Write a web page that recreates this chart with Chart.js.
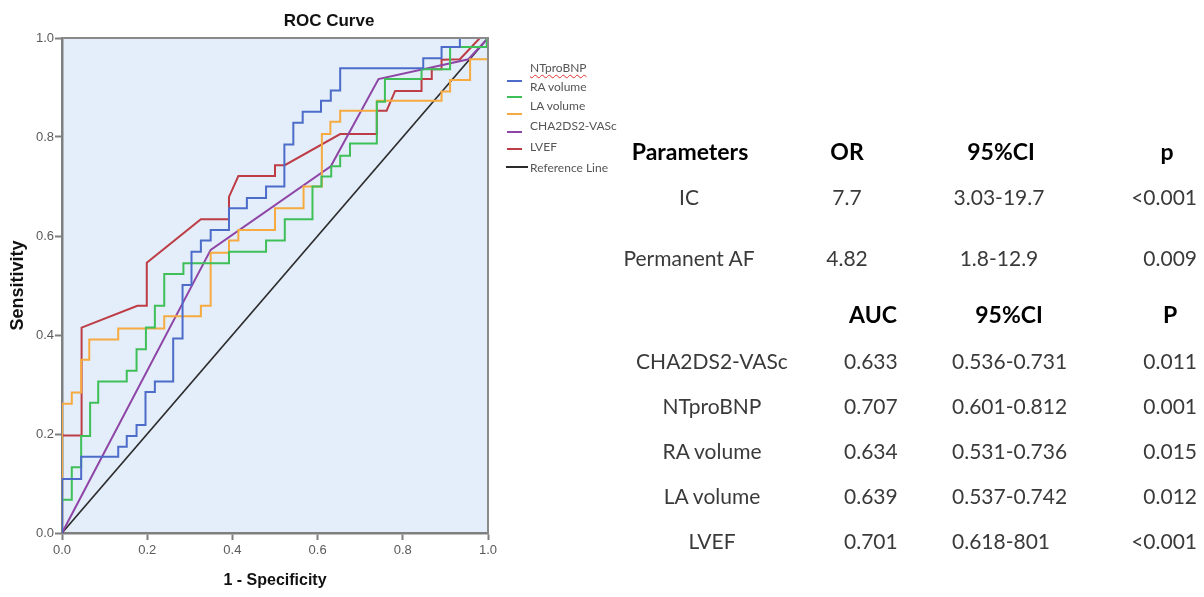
<!DOCTYPE html>
<html lang="en">
<head>
  <meta charset="UTF-8">
  <title>ROC Curve</title>
  <style>
    body { margin: 0; background: #fff; }
    #wrap { position: relative; width: 1204px; height: 597px; overflow: hidden; }
    #roc { position: absolute; left: 0; top: 0; }
    .cell {
      position: absolute; white-space: nowrap;
      font-family: Lato, "Open Sans", sans-serif; font-size: 21px; line-height: 1; color: #3a3a3a;
    }
    .head { font-weight: bold; color: #000; font-size: 23px; }
    .lg-text {
      position: absolute; transform: translateY(-50%); white-space: nowrap;
      font-family: Lato, sans-serif; font-size: 12px; line-height: 1; color: #555;
    }
    .lg-line { position: absolute; height: 2px; }
    .spell { text-decoration: underline wavy #e03030; text-decoration-thickness: 1px; text-underline-offset: 2px; }
  </style>
</head>
<body>
  <div id="wrap">
    <canvas id="roc" width="1204" height="597"></canvas>
  </div>

  <script src="https://cdn.jsdelivr.net/npm/chart.js"></script>
  <script>
    // ROC curves (1 - specificity, sensitivity)
    // step curves: each point is the corner at the end of a horizontal run
    const ntprobnpX = [0, 0.045, 0.132, 0.152, 0.175, 0.196, 0.218, 0.261, 0.283, 0.304, 0.326, 0.349, 0.392, 0.434, 0.479, 0.522, 0.543, 0.565, 0.608, 0.631, 0.653, 0.848, 0.891, 0.934, 1];
    const ntprobnpY = [0, 0.109, 0.154, 0.174, 0.196, 0.218, 0.285, 0.306, 0.393, 0.501, 0.568, 0.591, 0.612, 0.656, 0.677, 0.700, 0.785, 0.829, 0.851, 0.873, 0.894, 0.939, 0.959, 0.982, 1];

    const raVolX = [0, 0.023, 0.045, 0.066, 0.085, 0.152, 0.175, 0.197, 0.218, 0.240, 0.285, 0.392, 0.479, 0.523, 0.588, 0.609, 0.632, 0.653, 0.676, 0.739, 0.758, 0.844, 0.911, 0.997, 1];
    const raVolY = [0, 0.067, 0.133, 0.196, 0.263, 0.306, 0.328, 0.371, 0.415, 0.459, 0.523, 0.545, 0.568, 0.591, 0.634, 0.700, 0.720, 0.741, 0.762, 0.787, 0.871, 0.917, 0.937, 0.982, 1];

    const laVolX = [0, 0.023, 0.045, 0.064, 0.132, 0.240, 0.326, 0.349, 0.392, 0.414, 0.500, 0.567, 0.610, 0.630, 0.653, 0.739, 0.891, 0.911, 0.958, 1, 1];
    const laVolY = [0, 0.261, 0.284, 0.350, 0.391, 0.413, 0.438, 0.459, 0.566, 0.591, 0.612, 0.656, 0.700, 0.806, 0.831, 0.853, 0.873, 0.892, 0.915, 0.957, 1];

    // these two have sloped pieces, so every vertex is listed
    const chadsX = [0, 0.349, 0.631, 0.743, 0.954, 1];
    const chadsY = [0, 0.572, 0.741, 0.917, 0.957, 1];

    const lvefX = [0, 0, 0.046, 0.046, 0.177, 0.199, 0.199, 0.326, 0.392, 0.392, 0.414, 0.500, 0.500, 0.523, 0.653, 0.739, 0.739, 0.762, 0.782, 0.844, 0.844, 0.868, 0.868, 0.891, 0.891, 0.934, 0.981, 1];
    const lvefY = [0, 0.197, 0.197, 0.415, 0.459, 0.459, 0.546, 0.634, 0.634, 0.679, 0.721, 0.721, 0.743, 0.743, 0.806, 0.806, 0.853, 0.853, 0.893, 0.893, 0.917, 0.917, 0.937, 0.937, 0.956, 0.957, 1, 1];

    const refX = [0, 1];
    const refY = [0, 1];

    const axisTicks = [0, 0.2, 0.4, 0.6, 0.8, 1.0];

    // table on the right
    const orHeaders = ['Parameters', 'OR', '95%CI', 'p'];
    const orParams = ['IC', 'Permanent AF'];
    const orValues = ['7.7', '4.82'];
    const orCI = ['3.03-19.7', '1.8-12.9'];
    const orP = ['<0.001', '0.009'];

    const aucHeaders = ['', 'AUC', '95%CI', 'P'];
    const aucParams = ['CHA2DS2-VASc', 'NTproBNP', 'RA volume', 'LA volume', 'LVEF'];
    const aucValues = ['0.633', '0.707', '0.634', '0.639', '0.701'];
    const aucCI = ['0.536-0.731', '0.601-0.812', '0.531-0.736', '0.537-0.742', '0.618-801'];
    const aucP = ['0.011', '0.001', '0.015', '0.012', '<0.001'];

    function pts(xs, ys) {
      return xs.map((x, i) => ({ x: x, y: ys[i] }));
    }

    function curve(label, xs, ys, color, stepped, width) {
      return {
        label: label,
        data: pts(xs, ys),
        showLine: true,
        stepped: stepped ? 'after' : false,
        borderColor: color,
        borderWidth: width || 2,
        pointRadius: 0,
        tension: 0,
        fill: false
      };
    }

    const datasets = [
      curve('NTproBNP', ntprobnpX, ntprobnpY, '#4d6cc9', true),
      curve('RA volume', raVolX, raVolY, '#3fbf58', true),
      curve('LA volume', laVolX, laVolY, '#f6aa40', true),
      curve('CHA2DS2-VASc', chadsX, chadsY, '#8e45a6', false),
      curve('LVEF', lvefX, lvefY, '#bd3c45', false),
      curve('Reference Line', refX, refY, '#2b2b2b', false, 1.6)
    ];

    const frame = {
      id: 'frame',
      beforeDraw(chart) {
        const { ctx, chartArea: a } = chart;
        ctx.save();
        ctx.fillStyle = '#e3eefa';
        ctx.fillRect(a.left, a.top, a.right - a.left, a.bottom - a.top);
        ctx.restore();
      },
      afterDraw(chart) {
        const { ctx, chartArea: a } = chart;
        ctx.save();
        ctx.strokeStyle = '#8a8a8a';
        ctx.lineWidth = 2;
        ctx.beginPath();
        ctx.moveTo(a.left, a.top);
        ctx.lineTo(a.right, a.top);
        ctx.lineTo(a.right, a.bottom);
        ctx.stroke();

        ctx.fillStyle = '#111';
        ctx.textAlign = 'center';
        ctx.textBaseline = 'middle';
        ctx.font = 'bold 17px "Liberation Sans", Arial, sans-serif';
        ctx.fillText('ROC Curve', 329, 21);
        ctx.font = 'bold 16px "Liberation Sans", Arial, sans-serif';
        ctx.fillText('1 - Specificity', (a.left + a.right) / 2, 581);
        ctx.translate(18, (a.top + a.bottom) / 2);
        ctx.rotate(-Math.PI / 2);
        ctx.font = 'bold 18px "Liberation Sans", Arial, sans-serif';
        ctx.fillText('Sensitivity', 0, 0);
        ctx.restore();
      }
    };

    function axis(size, isX) {
      return {
        type: 'linear',
        min: 0,
        max: 1,
        afterBuildTicks: s => { s.ticks = axisTicks.map(v => ({ value: v })); },
        ticks: {
          callback: v => v.toFixed(1),
          font: { family: '"Liberation Sans", Arial, sans-serif', size: 13 },
          color: '#5a5a5a',
          padding: isX ? 3 : 1,
          maxRotation: 0,
          autoSkip: false
        },
        grid: { drawOnChartArea: false, tickLength: 7, tickColor: '#7f7f7f', tickWidth: 2 },
        border: { color: '#7f7f7f', width: 2.5 },
        afterFit: s => { if (isX) s.height = size; else s.width = size; }
      };
    }

    const chart = new Chart(document.getElementById('roc'), {
      type: 'scatter',
      data: { datasets: datasets },
      options: {
        responsive: false,
        animation: false,
        layout: { padding: { top: 38, right: 716, bottom: 0, left: 0 } },
        plugins: {
          legend: { display: false },
          tooltip: { enabled: false },
          title: { display: false }
        },
        scales: {
          x: axis(64, true),
          y: axis(62, false)
        }
      },
      plugins: [frame]
    });

    // legend built from the chart's datasets
    const wrap = document.getElementById('wrap');
    const legendTextY = [68, 87, 106, 126, 147, 168];
    const legendLineY = [81, 97, 114, 132, 149, 167];
    chart.data.datasets.forEach((ds, i) => {
      const last = i === chart.data.datasets.length - 1;
      const line = document.createElement('div');
      line.className = 'lg-line';
      line.style.left = (last ? 506 : 507) + 'px';
      line.style.width = (last ? 22 : 15) + 'px';
      line.style.top = (legendLineY[i] - 1) + 'px';
      line.style.background = ds.borderColor;
      wrap.appendChild(line);

      const txt = document.createElement('div');
      txt.className = 'lg-text' + (ds.label === 'NTproBNP' ? ' spell' : '');
      txt.style.left = '530px';
      txt.style.top = legendTextY[i] + 'px';
      txt.textContent = ds.label;
      wrap.appendChild(txt);
    });

    // align: 'c' centre on x, 'l' start at x, 'r' end at x
    function cell(text, x, y, head, align) {
      if (!text) return;
      const d = document.createElement('div');
      d.className = 'cell' + (head ? ' head' : '');
      d.style.left = x + 'px';
      d.style.top = y + 'px';
      const tx = align === 'l' ? '0' : align === 'r' ? '-100%' : '-50%';
      d.style.transform = 'translate(' + tx + ', -50%)';
      d.textContent = text;
      wrap.appendChild(d);
    }

    const orHeadX = [690, 847, 1001, 1167];
    const orCellX = [689, 847, 999, 1197];
    const orCellAlign = ['c', 'c', 'c', 'r'];
    const orRowY = [196, 257];
    orHeaders.forEach((h, c) => cell(h, orHeadX[c], 151, true, 'c'));
    orParams.forEach((p, r) => {
      [p, orValues[r], orCI[r], orP[r]].forEach((t, c) => cell(t, orCellX[c], orRowY[r], false, orCellAlign[c]));
    });

    const aucHeadX = [712, 873, 1009, 1170];
    const aucCellX = [712, 844, 952, 1197];
    const aucCellAlign = ['c', 'l', 'l', 'r'];
    const aucRowY = [360, 405, 450, 495, 540];
    aucHeaders.forEach((h, c) => cell(h, aucHeadX[c], 314, true, 'c'));
    aucParams.forEach((p, r) => {
      [p, aucValues[r], aucCI[r], aucP[r]].forEach((t, c) => cell(t, aucCellX[c], aucRowY[r], false, aucCellAlign[c]));
    });
  </script>
</body>
</html>
